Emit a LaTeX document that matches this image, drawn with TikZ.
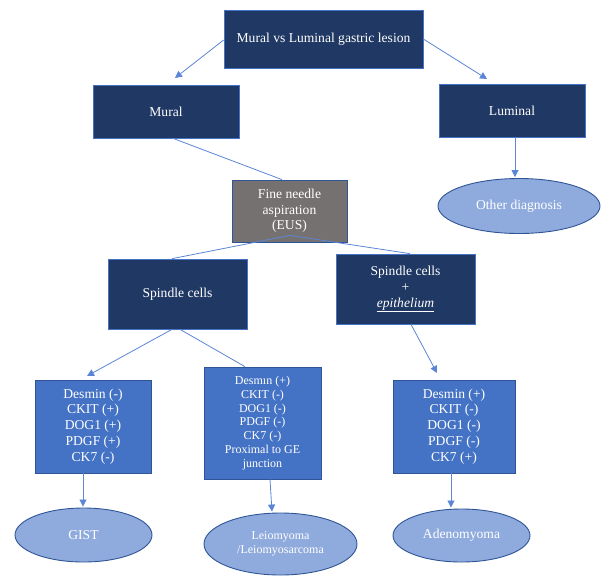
\documentclass[tikz,border=0pt]{standalone}
\usepackage{fontspec}
\setmainfont{Liberation Serif}
\usetikzlibrary{arrows.meta,shapes.geometric,calc}
\definecolor{navy}{HTML}{203864}
\definecolor{midblue}{HTML}{4472C4}
\definecolor{edgeblue}{HTML}{2F5597}
\definecolor{lightblue}{HTML}{8FAADC}
\definecolor{greybox}{HTML}{767171}
\definecolor{linkblue}{HTML}{5B85D6}
\tikzset{
  darkbox/.style={draw=midblue, line width=0.7pt, fill=navy, text=white, align=center, inner sep=2pt,
    font=\fontsize{13.6}{16}\selectfont},
  fnabox/.style={draw=edgeblue, line width=0.8pt, fill=greybox, text=white, align=center, inner sep=2pt,
    font=\fontsize{13.6}{15.5}\selectfont},
  markbox/.style={draw=edgeblue, line width=0.7pt, fill=midblue, text=white, align=center, inner sep=2pt,
    font=\fontsize{13.6}{15.8}\selectfont},
  smallmark/.style={markbox, font=\fontsize{12}{13.8}\selectfont},
  oval/.style={ellipse, draw=edgeblue, line width=0.9pt, fill=lightblue, text=white, align=center, inner sep=0pt,
    font=\fontsize{13.6}{16}\selectfont},
  link/.style={draw=linkblue, line width=0.8pt},
  arr/.style={link, -{Triangle[length=7pt,width=7pt]}},
}
\begin{document}
\begin{tikzpicture}[x=1pt,y=-1pt]
\useasboundingbox (0,0) rectangle (610,582);
% boxes
\node[darkbox, minimum width=199, minimum height=58] (top) at (323.5,39) {Mural vs Luminal gastric lesion};
\node[darkbox, minimum width=146, minimum height=53] (mural) at (166,111.5) {Mural};
\node[darkbox, minimum width=146, minimum height=53] (lum) at (512,110.5) {Luminal};
\node[oval, minimum width=162, minimum height=55] (other) at (519,206) {Other diagnosis};
\node[fnabox, minimum width=115, minimum height=62] (fna) at (289.5,211) {Fine needle\\aspiration\\(EUS)};
\node[darkbox, minimum width=139, minimum height=70] (spin) at (177.5,294) {Spindle cells};
\node[darkbox, minimum width=139, minimum height=70] (spep) at (405.5,289) {Spindle cells\\+\\\underline{\textit{epithelium}}};
\node[markbox, minimum width=116, minimum height=93] (gbox) at (93,426.5) {Desmin (-)\\CKIT (+)\\DOG1 (+)\\PDGF (+)\\CK7 (-)};
\node[smallmark, minimum width=117, minimum height=112] (mbox) at (262.5,423) {Desmın (+)\\CKIT (-)\\DOG1 (-)\\PDGF (-)\\CK7 (-)\\Proximal to GE\\junction};
\node[markbox, minimum width=122, minimum height=93] (rbox) at (454,426.5) {Desmin (+)\\CKIT (-)\\DOG1 (-)\\PDGF (-)\\CK7 (+)};
\node[oval, minimum width=137, minimum height=54] (gist) at (83.5,535) {GIST};
\node[oval, minimum width=153, minimum height=62, font=\fontsize{12}{14}\selectfont] (leio) at (280.5,544) {Leiomyoma\\/Leiomyosarcoma};
\node[oval, minimum width=137, minimum height=53] (adeno) at (461.5,535.5) {Adenomyoma};
% free ends
\coordinate (tipmural) at (175,78);
\coordinate (tiplum) at (487,79);
\coordinate (tipg) at (87,376);
\coordinate (tipr) at (437,373);
% connectors
\draw[arr] ($(top.west)+(0,1)$) -- (tipmural);
\draw[arr] (top.east) -- (tiplum);
\draw[arr] ($(lum.south)+(3,0)$) -- ($(other.north)+(-4,-1)$);
\draw[link] ($(mural.south)+(7,0)$) -- ($(fna.north)+(-7.5,0)$);
\draw[link] ($(fna.south)+(0.5,-7)$) -- ($(spin.north)+(-5.5,0)$);
\draw[link] ($(fna.south)+(0.5,-7)$) -- ($(spep.north)+(4.5,0)$);
\draw[arr] ($(spin.south)+(-5.5,0)$) -- (tipg);
\draw[link] ($(spin.south)+(2.5,0)$) -- ($(mbox.north)+(-17.5,0)$);
\draw[arr] ($(spep.south)+(5.5,0)$) -- (tipr);
\draw[arr] ($(gbox.south)+(-10,0)$) -- ($(gist.north)+(-0.5,-1)$);
\draw[arr] ($(mbox.south)+(7.5,0)$) -- ($(leio.north)+(-8.5,-1)$);
\draw[arr] ($(rbox.south)+(-3,0)$) -- ($(adeno.north)+(-10.5,-1)$);
\end{tikzpicture}
\end{document}
